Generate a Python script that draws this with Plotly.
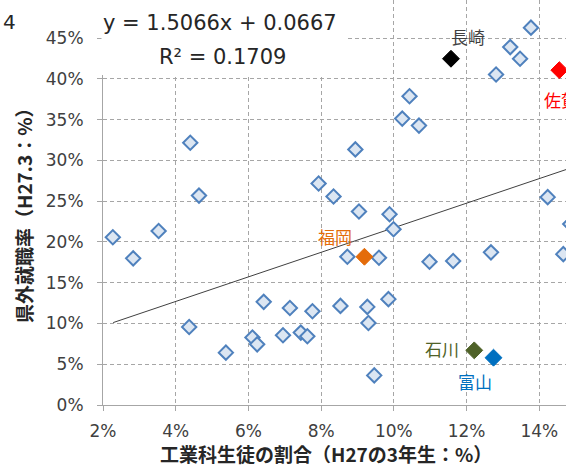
import plotly.graph_objects as go

# ---- data (fractions) ----
others_x = [0.0227, 0.0283, 0.0353, 0.0440, 0.0464, 0.0437, 0.0538, 0.0611, 0.0624, 0.0642,
            0.0695, 0.0714, 0.0744, 0.0762, 0.0776, 0.0853, 0.0927, 0.0930, 0.0985, 0.0946,
            0.0894, 0.0793, 0.0834, 0.0904, 0.0988, 0.0999, 0.0872, 0.0959, 0.1098, 0.1163,
            0.1267, 0.1423, 0.1466, 0.1485, 0.1043, 0.1023, 0.1069, 0.1281, 0.1320, 0.1347,
            0.1377]
others_y = [0.2057, 0.1798, 0.2134, 0.3216, 0.2568, 0.0957, 0.0642, 0.0827, 0.0744, 0.1265,
            0.0855, 0.1190, 0.0888, 0.0843, 0.1150, 0.1215, 0.1203, 0.1006, 0.1298, 0.0363,
            0.3134, 0.2716, 0.2556, 0.2372, 0.2339, 0.2155, 0.1818, 0.1806, 0.1757, 0.1765,
            0.1872, 0.2549, 0.1850, 0.2220, 0.3786, 0.3512, 0.3426, 0.4053, 0.4389, 0.4246,
            0.4627]

highlight_names = ["長崎", "佐賀", "福岡", "石川", "富山"]
highlight_x = [0.1157, 0.1455, 0.0919, 0.1221, 0.1274]
highlight_y = [0.4246, 0.4106, 0.1818, 0.0670, 0.0580]
highlight_colors = ["#000000", "#FF0000", "#E46C0A", "#4F6228", "#0070C0"]
label_colors = ["#404040", "#FF0000", "#E46C0A", "#4F6228", "#0070C0"]
label_shift = [(17, 22), (2, -29), (-29, 20), (-32, 2), (-19, -24)]

slope = 1.5066
intercept = 0.0667
trend_x = [0.0228, 0.16]
trend_y = [slope * v + intercept for v in trend_x]

x_ticks = [0.02, 0.04, 0.06, 0.08, 0.10, 0.12, 0.14]
x_ticktext = ["2%", "4%", "6%", "8%", "10%", "12%", "14%"]
y_ticks = [0.0, 0.05, 0.10, 0.15, 0.20, 0.25, 0.30, 0.35, 0.40, 0.45]
y_ticktext = ["0%", "5%", "10%", "15%", "20%", "25%", "30%", "35%", "40%", "45%"]

x_title = "工業科生徒の割合（H27の3年生：%）"
y_title = "県外就職率（H27.3：%）"

NUM_FONT = "Verdana, DejaVu Sans, Noto Sans CJK JP"
JP_FONT = "Noto Sans CJK JP, sans-serif"

PL, PB, PH, PW = 103, 405, 405, 463  # plot-area geometry in pixels


def px(xp):
    return (xp - PL) / PW


def py(yp):
    return (PB - yp) / PH


fig = go.Figure()

fig.add_trace(go.Scatter(
    x=trend_x, y=trend_y, mode="lines",
    line=dict(color="#404040", width=1), hoverinfo="skip", showlegend=False))

fig.add_trace(go.Scatter(
    x=others_x, y=others_y, mode="markers",
    marker=dict(symbol="diamond", size=11, color="#DCE6F2",
                line=dict(color="#4F81BD", width=2)),
    showlegend=False))

for i in range(len(highlight_names)):
    fig.add_trace(go.Scatter(
        x=[highlight_x[i]], y=[highlight_y[i]], mode="markers",
        marker=dict(symbol="diamond", size=13, color=highlight_colors[i],
                    line=dict(color=highlight_colors[i], width=1)),
        showlegend=False))
    fig.add_annotation(
        x=highlight_x[i], y=highlight_y[i], xref="x", yref="y",
        text=highlight_names[i], showarrow=False,
        xanchor="center", yanchor="middle",
        xshift=label_shift[i][0], yshift=label_shift[i][1],
        font=dict(family=JP_FONT, size=17, color=label_colors[i]))

# white box behind the regression equation (hides gridlines and axis line there)
fig.add_shape(type="rect", xref="paper", yref="paper",
              x0=px(101.5), x1=px(345), y0=py(75), y1=py(0),
              fillcolor="white", line=dict(width=0), layer="above")

fig.add_annotation(
    x=px(220), y=py(23), xref="paper", yref="paper", xanchor="center", yanchor="middle",
    text="y = 1.5066x + 0.0667", showarrow=False,
    font=dict(family=NUM_FONT, size=21, color="#262626"))
fig.add_annotation(
    x=px(222), y=py(57), xref="paper", yref="paper", xanchor="center", yanchor="middle",
    text="R² = 0.1709", showarrow=False,
    font=dict(family=NUM_FONT, size=21, color="#262626"))

# cut-off figure number at top-left
fig.add_annotation(
    x=px(9), y=py(22), xref="paper", yref="paper", xanchor="center", yanchor="middle",
    text="4", showarrow=False,
    font=dict(family=NUM_FONT, size=20, color="#262626"))

# axis titles
fig.add_annotation(
    x=px(326), y=py(453), xref="paper", yref="paper", xanchor="center", yanchor="middle",
    text="<b>" + x_title + "</b>", showarrow=False,
    font=dict(family=JP_FONT, size=19, color="#262626"))
fig.add_annotation(
    x=px(23), y=py(211), xref="paper", yref="paper", xanchor="center", yanchor="middle",
    text="<b>" + y_title + "</b>", showarrow=False, textangle=-90,
    font=dict(family=JP_FONT, size=19, color="#262626"))

grid = dict(showgrid=True, gridcolor="#A6A6A6", gridwidth=1, griddash="4px,3px",
            zeroline=False, showline=True, linecolor="#A6A6A6", linewidth=1,
            ticks="outside", ticklen=5, tickcolor="#A6A6A6",
            tickfont=dict(family=NUM_FONT, size=17, color="#404040"))

fig.update_xaxes(range=[0.02, 0.02 + PW / 3636], tickvals=x_ticks, ticktext=x_ticktext,
                 ticklabelstandoff=6, **grid)
fig.update_yaxes(range=[0, PH / 815.5], tickvals=y_ticks, ticktext=y_ticktext,
                 ticklabelstandoff=10, **grid)

fig.update_layout(
    width=566, height=467,
    margin=dict(l=PL, r=0, t=0, b=467 - PB, pad=0),
    plot_bgcolor="white", paper_bgcolor="white",
    showlegend=False)

fig.write_html("out.html", config={"displayModeBar": False},
               post_script="document.body.style.margin='0';")
